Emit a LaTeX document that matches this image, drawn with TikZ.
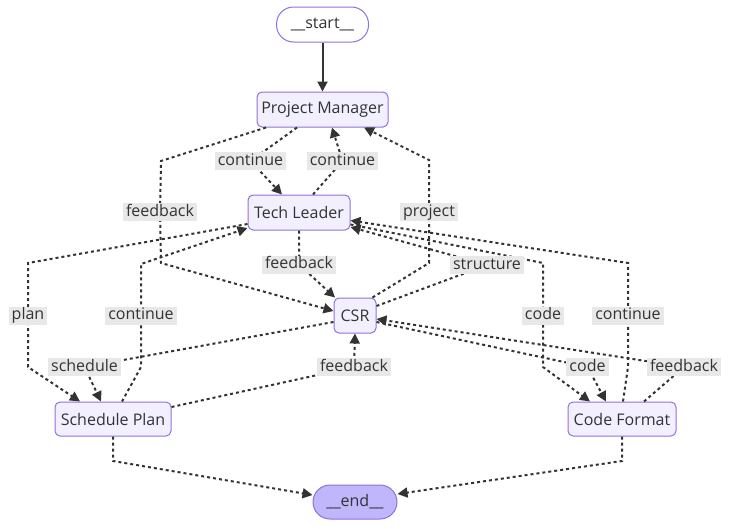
\documentclass[tikz,border=0pt]{standalone}
\usepackage{fontspec}
\setmainfont{Open Sans}
\usetikzlibrary{arrows.meta}
\definecolor{nodefill}{HTML}{F2F0FF}
\definecolor{nodeline}{HTML}{9370DB}
\definecolor{endfill}{HTML}{BFB6FC}
\definecolor{ink}{HTML}{333333}
\definecolor{lblbg}{HTML}{E8E8E8}
\begin{document}
\begin{tikzpicture}[x=1pt,y=-1pt,
  box/.style={draw=nodeline, fill=nodefill, line width=1pt, rounded corners=5pt,
    minimum height=35pt, inner sep=0pt, text=ink, font=\fontsize{16}{19}\selectfont},
  pill/.style={box, rounded corners=17pt},
  lbl/.style={fill=lblbg, text=ink, inner xsep=3pt, inner ysep=1pt,
    text height=12pt, text depth=4pt, font=\fontsize{16}{19}\selectfont},
  flow/.style={draw=ink, line width=2pt, dash pattern=on 3pt off 3pt,
    -{Triangle[length=10pt,width=10pt]}},
  flowsolid/.style={draw=ink, line width=2pt, -{Triangle[length=10pt,width=10pt]}},
]
\fill[white] (0,0) rectangle (731,528);
\useasboundingbox (0,0) rectangle (731,528);

% nodes
\node[pill, fill=white, minimum width=92pt] (start) at (322.5,24.5) {\_\_start\_\_};
\node[box, minimum width=131pt] (pm) at (322.5,109.5) {Project Manager};
\node[box, minimum width=102pt] (tl) at (299,212.5) {Tech Leader};
\node[box, minimum width=42pt] (csr) at (355,315.5) {CSR};
\node[box, minimum width=116pt, minimum height=34pt] (sp) at (113,419) {Schedule Plan};
\node[box, minimum width=108pt, minimum height=34pt] (cf) at (622,419) {Code Format};
\node[pill, fill=endfill, minimum width=84pt, minimum height=34pt] (end) at (355,502) {\_\_end\_\_};

% label positions
\coordinate (c1) at (250.5,161);
\coordinate (c2) at (342.5,161);
\coordinate (c3) at (160,212);
\coordinate (c4) at (429,212);
\coordinate (c5) at (299,264.5);
\coordinate (c6) at (487,265);
\coordinate (c7) at (28,315.5);
\coordinate (c8) at (141,315.5);
\coordinate (c9) at (84.5,367);
\coordinate (c10) at (354,367);
\coordinate (c11) at (587.5,367);
\coordinate (c12) at (684,367);
\coordinate (c13) at (543,315.5);
\coordinate (c14) at (628,315.5);

% edges
\draw[flowsolid] (start.south) -- (pm.north);
\draw[flow] ([xshift=-25.5pt]pm.south) -- (c1) -- ([xshift=-17pt]tl.north);
\draw[flow] ([xshift=14pt]tl.north) -- (c2) -- ([xshift=9.5pt]pm.south);
\draw[flow] ([xshift=-56.5pt]pm.south) -- (161,161) -- (c3) -- (161,263) -- ([yshift=4.5pt]csr.west);
\draw[flow] ([xshift=-4pt]csr.north east) -- (429,263) -- (c4) -- (429,160) -- ([xshift=41.5pt]pm.south);
\draw[flow] (tl.south) -- (c5) -- ([xshift=-20pt]csr.north);
\draw[flow] ([yshift=9.5pt]csr.east) -- (c6) -- ([yshift=-14.5pt]tl.east);
\draw[flow] ([yshift=-11.5pt]tl.west) -- (28,263) -- (c7) -- (28,367) -- ([xshift=-33pt]sp.north);
\draw[flow] ([xshift=9pt]sp.north) -- (141,367) -- (c8) -- (141,264) -- ([yshift=-15.5pt]tl.west);
\draw[flow] ([yshift=-6.5pt]csr.west) -- (c9) -- ([xshift=-12pt]sp.north);
\draw[flow] ([yshift=12pt]sp.east) -- (c10) -- (csr.south);
\draw[flow] ([yshift=-6.5pt]csr.east) -- (c11) -- ([xshift=-16pt]cf.north);
\draw[flow] ([xshift=22pt]cf.north) -- (c12) -- ([yshift=-3.5pt]csr.east);
\draw[flow] ([yshift=-12pt]tl.east) -- (543,263) -- (c13) -- (543,367) -- ([xshift=-32pt]cf.north);
\draw[flow] ([xshift=1pt]cf.north) -- (628,367) -- (c14) -- (628,263) -- ([yshift=-8pt]tl.east);
\draw[flow] (sp.south) -- (113,461) -- ([yshift=7pt]end.west);
\draw[flow] (cf.south) -- (622,461) -- ([yshift=8pt]end.east);

% labels
\node[lbl] (l1) at (c1) {continue};
\node[lbl] (l2) at (c2) {continue};
\node[lbl] (l3) at (c3) {feedback};
\node[lbl] (l4) at (c4) {project};
\node[lbl] (l5) at (c5) {feedback};
\node[lbl] (l6) at (c6) {structure};
\node[lbl] (l7) at (c7) {plan};
\node[lbl] (l8) at (c8) {continue};
\node[lbl] (l9) at (c9) {schedule};
\node[lbl] (l10) at (c10) {feedback};
\node[lbl] (l11) at (c11) {code};
\node[lbl] (l12) at (c12) {feedback};
\node[lbl] (l13) at (c13) {code};
\node[lbl] (l14) at (c14) {continue};
\end{tikzpicture}
\end{document}
